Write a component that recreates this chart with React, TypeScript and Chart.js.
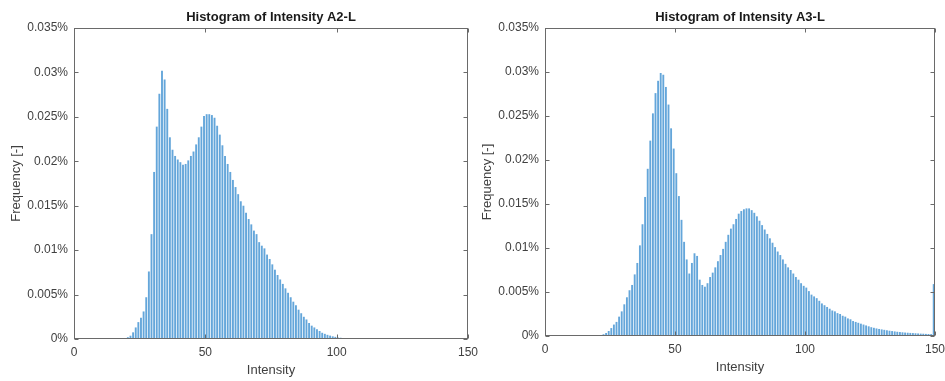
import React, { useEffect, useRef } from "react";
import { Chart, registerables } from "chart.js";

Chart.register(...registerables);

// Intensity axis ticks and frequency (percent) ticks shared by both panels
const INTENSITY_TICKS = [0, 50, 100, 150];
const FREQUENCY_TICKS = [0, 0.005, 0.01, 0.015, 0.02, 0.025, 0.03, 0.035];

// Histogram bins are one intensity level wide; each bar is drawn at its bin centre
const BIN_WIDTH = 1;

// A2-L: relative frequency (%) per bin, first bin edge at 17
const A2_FIRST_EDGE = 17;
const a2Frequency = [
  0.00003, 0.00006, 0.0001, 0.0002, 0.00037, 0.00075, 0.0013, 0.0019, 0.0024, 0.0031,
  0.0047, 0.0076, 0.0118, 0.0188, 0.0239, 0.0276, 0.0302, 0.0292, 0.0259, 0.0227,
  0.0213, 0.0206, 0.0202, 0.0199, 0.0196, 0.0197, 0.0201, 0.0206, 0.0211, 0.0219,
  0.0227, 0.0239, 0.0251, 0.0253, 0.0253, 0.0252, 0.0249, 0.024, 0.023, 0.0218,
  0.0206, 0.0197, 0.0188, 0.0179, 0.0171, 0.0163, 0.0155, 0.015, 0.0142, 0.0135,
  0.0129, 0.0122, 0.0118, 0.0109, 0.0105, 0.0102, 0.0095, 0.009, 0.0084, 0.0078,
  0.0072, 0.0067, 0.0062, 0.0057, 0.0052, 0.0047, 0.0042, 0.0038, 0.0033, 0.0029,
  0.0025, 0.0022, 0.0018, 0.0015, 0.0013, 0.0011, 0.0009, 0.0007, 0.00058, 0.00047,
  0.00038, 0.0003, 0.00024, 0.00018, 0.00014, 0.0001, 0.00008, 0.00006, 0.00004, 0.00003,
  0.00002,
];

// A3-L: relative frequency (%) per bin, first bin edge at 17; the last bin [149, 150] holds the saturated pixels
const A3_FIRST_EDGE = 17;
const a3Frequency = [
  0.00002, 0.00003, 0.00004, 0.00006, 0.00008, 0.0002, 0.00034, 0.00057, 0.0009, 0.0013,
  0.0016, 0.0022, 0.0028, 0.0036, 0.0044, 0.0052, 0.0058, 0.007, 0.0083, 0.0103,
  0.0127, 0.0158, 0.019, 0.0222, 0.0253, 0.0276, 0.029, 0.0299, 0.0297, 0.0283,
  0.0263, 0.0236, 0.0213, 0.0185, 0.0159, 0.0132, 0.0107, 0.0087, 0.0071, 0.0083,
  0.0094, 0.0091, 0.0064, 0.0058, 0.0056, 0.006, 0.0067, 0.0072, 0.0078, 0.0085,
  0.0092, 0.0099, 0.0107, 0.0115, 0.0122, 0.0127, 0.0133, 0.0139, 0.0142, 0.0144,
  0.0145, 0.0145, 0.0143, 0.014, 0.0136, 0.0131, 0.0126, 0.0121, 0.0116, 0.0111,
  0.0106, 0.0101, 0.0096, 0.0092, 0.0087, 0.0082, 0.0078, 0.0075, 0.0071, 0.0067,
  0.0064, 0.006, 0.0057, 0.0055, 0.0051, 0.0047, 0.0045, 0.0043, 0.004, 0.0037,
  0.0035, 0.0033, 0.0031, 0.0029, 0.0028, 0.0026, 0.0025, 0.0023, 0.0022, 0.002,
  0.0019, 0.0017, 0.0016, 0.0015, 0.0014, 0.0013, 0.0012, 0.0011, 0.001, 0.00093,
  0.00086, 0.0008, 0.00075, 0.0007, 0.00065, 0.0006, 0.00056, 0.00052, 0.00048, 0.00045,
  0.00042, 0.00039, 0.00037, 0.00035, 0.00033, 0.00031, 0.00029, 0.00027, 0.00026, 0.00024,
  0.00023, 0.00021, 0.0059,
];

const FONT = '"Liberation Sans", Arial, Helvetica, sans-serif';
const BAR_COLOR = "#64a6da";
const AXIS_COLOR = "#6a6a6a";
const TEXT_COLOR = "#404040";

// Box around the axes with inward tick marks on all four sides, plus the bold title
const axesFrame = {
  id: "axesFrame",
  afterDraw(chart: any, _args: any, opts: any) {
    const { ctx, chartArea: a, scales } = chart;
    const l = Math.round(a.left) + 0.5;
    const r = Math.round(a.right) - 0.5;
    const t = Math.round(a.top) + 0.5;
    const b = Math.round(a.bottom) - 0.5;
    const tick = 4;
    ctx.save();
    ctx.strokeStyle = AXIS_COLOR;
    ctx.lineWidth = 1;
    ctx.strokeRect(l, t, r - l, b - t);
    ctx.beginPath();
    for (const tk of scales.x.ticks) {
      const px = Math.round(scales.x.getPixelForValue(tk.value)) + 0.5;
      ctx.moveTo(px, b);
      ctx.lineTo(px, b - tick);
      ctx.moveTo(px, t);
      ctx.lineTo(px, t + tick);
    }
    for (const tk of scales.y.ticks) {
      const py = Math.round(scales.y.getPixelForValue(tk.value)) + 0.5;
      ctx.moveTo(l, py);
      ctx.lineTo(l + tick, py);
      ctx.moveTo(r, py);
      ctx.lineTo(r - tick, py);
    }
    ctx.stroke();
    ctx.fillStyle = "#1a1a1a";
    ctx.font = `bold 13px ${FONT}`;
    ctx.textAlign = "center";
    ctx.textBaseline = "middle";
    ctx.fillText(opts.text, (a.left + a.right) / 2, opts.titleY);
    ctx.restore();
  },
};

type PanelProps = {
  title: string;
  firstEdge: number;
  frequency: number[];
  left: number;
  width: number;
  yAxisWidth: number;
  padRight: number;
  padTop: number;
  xAxisHeight: number;
  xTitlePad: number;
  yTitlePad: number;
};

const HEIGHT = 381;

function HistogramPanel(p: PanelProps) {
  const ref = useRef<HTMLCanvasElement | null>(null);

  useEffect(() => {
    if (!ref.current) return;
    const points = p.frequency.map((f, i) => ({
      x: p.firstEdge + (i + 0.5) * BIN_WIDTH,
      y: f,
    }));
    const chart = new Chart(ref.current, {
      type: "bar",
      data: {
        datasets: [
          {
            data: points as any,
            backgroundColor: BAR_COLOR,
            borderWidth: 0,
            barPercentage: 0.72,
            categoryPercentage: 1,
            clip: 0 as any,
          },
        ],
      },
      options: {
        animation: false,
        responsive: false,
        events: [],
        layout: { padding: { top: p.padTop, right: p.padRight, left: 0, bottom: 0 } },
        plugins: {
          legend: { display: false },
          tooltip: { enabled: false },
          title: { display: false },
          axesFrame: { text: p.title, titleY: 17 },
        } as any,
        scales: {
          x: {
            type: "linear",
            min: 0,
            max: 150,
            offset: false,
            grid: { display: false, drawTicks: false },
            border: { display: false },
            afterBuildTicks: (s: any) => {
              s.ticks = INTENSITY_TICKS.map((v) => ({ value: v }));
            },
            afterFit: (s: any) => {
              s.height = p.xAxisHeight;
              s.paddingLeft = 0;
              s.paddingRight = 0;
            },
            ticks: {
              padding: 6,
              maxRotation: 0,
              color: TEXT_COLOR,
              font: { family: FONT, size: 12 },
              callback: (v: any) => String(v),
            },
            title: {
              display: true,
              text: "Intensity",
              color: TEXT_COLOR,
              font: { family: FONT, size: 13 },
              padding: { top: 0, bottom: p.xTitlePad },
            },
          },
          y: {
            type: "linear",
            min: 0,
            max: 0.035,
            grid: { display: false, drawTicks: false },
            border: { display: false },
            afterBuildTicks: (s: any) => {
              s.ticks = FREQUENCY_TICKS.map((v) => ({ value: v }));
            },
            afterFit: (s: any) => {
              s.width = p.yAxisWidth;
              s.paddingTop = 0;
              s.paddingBottom = 0;
            },
            ticks: {
              padding: 6,
              color: TEXT_COLOR,
              font: { family: FONT, size: 12 },
              callback: (v: any) => `${parseFloat(Number(v).toFixed(3))}%`,
            },
            title: {
              display: true,
              text: "Frequency [-]",
              color: TEXT_COLOR,
              font: { family: FONT, size: 13 },
              padding: { top: p.yTitlePad, bottom: 0 },
            },
          },
        },
      },
      plugins: [axesFrame],
    });
    return () => chart.destroy();
  }, []);

  return (
    <div style={{ position: "absolute", left: p.left, top: 0, width: p.width, height: HEIGHT }}>
      <canvas ref={ref} width={p.width} height={HEIGHT} style={{ display: "block" }} />
    </div>
  );
}

export default function App() {
  return (
    <div
      style={{
        position: "absolute",
        left: 0,
        top: 0,
        width: 945,
        height: HEIGHT,
        background: "#ffffff",
        overflow: "hidden",
      }}
    >
      <HistogramPanel
        title="Histogram of Intensity A2-L"
        firstEdge={A2_FIRST_EDGE}
        frequency={a2Frequency}
        left={0}
        width={490}
        yAxisWidth={74}
        padRight={22}
        padTop={28}
        xAxisHeight={42}
        xTitlePad={3}
        yTitlePad={9}
      />
      <HistogramPanel
        title="Histogram of Intensity A3-L"
        firstEdge={A3_FIRST_EDGE}
        frequency={a3Frequency}
        left={472}
        width={473}
        yAxisWidth={73}
        padRight={10}
        padTop={28}
        xAxisHeight={45}
        xTitlePad={6}
        yTitlePad={8}
      />
    </div>
  );
}
